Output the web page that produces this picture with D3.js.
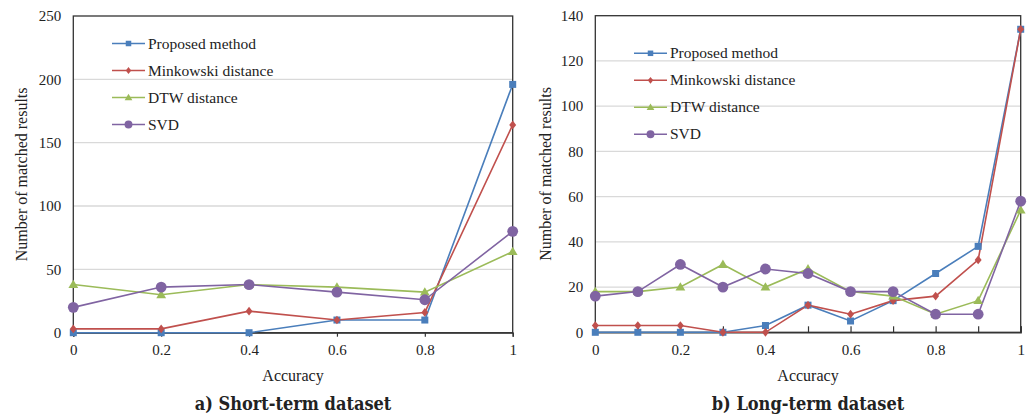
<!DOCTYPE html>
<html><head><meta charset="utf-8">
<script src="https://cdn.jsdelivr.net/npm/d3@7"></script>
<style>
body{margin:0;background:#fff;}
svg text{font-family:"Liberation Serif","Times New Roman",serif;fill:#222;}
.title{font-family:"DejaVu Serif",serif !important;font-weight:bold;font-stretch:condensed;}
</style></head>
<body>
<svg id="c" width="1035" height="416"></svg>
<script>
const seriesNames = ["Proposed method","Minkowski distance","DTW distance","SVD"];
const colors = ["#4a7ebb","#c0504d","#9bbb59","#8064a2"];
const markers = ["square","diamond","triangle","circle"];

// Short-term dataset
const shortX = [0,0.2,0.4,0.6,0.8,1];
const shortProposed = [0,0,0,10,10,196];
const shortMinkowski = [3,3,17,10,16,164];
const shortDTW = [38,30,38,36,32,64];
const shortSVD = [20,36,38,32,26,80];
const shortYTicks = [0,50,100,150,200,250];
const shortXTicks = [0,0.2,0.4,0.6,0.8,1];
const shortXLabels = ["0","0.2","0.4","0.6","0.8","1"];

// Long-term dataset
const longX = [0,0.1,0.2,0.3,0.4,0.5,0.6,0.7,0.8,0.9,1];
const longProposed = [0,0,0,0,3,12,5,14,26,38,134];
const longMinkowski = [3,3,3,0,0,12,8,14,16,32,134];
const longDTW = [18,18,20,30,20,28,18,16,8,14,54];
const longSVD = [16,18,30,20,28,26,18,18,8,8,58];
const longYTicks = [0,20,40,60,80,100,120,140];
const longXTicks = [0,0.1,0.2,0.3,0.4,0.5,0.6,0.7,0.8,0.9,1];
const longXLabels = ["0","0.2","0.4","0.6","0.8","1"];

const svg = d3.select("#c");

function drawMarker(g, type, x, y, color, s){
  if(type==="square"){
    g.append("rect").attr("x",x-s/2).attr("y",y-s/2).attr("width",s).attr("height",s).attr("fill",color);
  } else if(type==="diamond"){
    const r=s*0.62;
    g.append("path").attr("d",`M${x},${y-r}L${x+r*0.8},${y}L${x},${y+r}L${x-r*0.8},${y}Z`).attr("fill",color);
  } else if(type==="triangle"){
    const r=s*0.7;
    g.append("path").attr("d",`M${x},${y-r}L${x+r},${y+r*0.7}L${x-r},${y+r*0.7}Z`).attr("fill",color);
  } else {
    g.append("circle").attr("cx",x).attr("cy",y).attr("r",s*0.72).attr("fill",color);
  }
}

function chart(cfg){
  const {x0,x1,y0,y1,xs,series,yMax,yTicks,xTicks,xLabels,legX,legY,title,yTitleX,tickIn} = cfg;
  const g = svg.append("g");
  const x = d3.scaleLinear().domain([0,1]).range([x0,x1]);
  const y = d3.scaleLinear().domain([0,yMax]).range([y0,y1]);
  // gridlines
  g.selectAll(".grid").data(yTicks.filter(d=>d>0 && d<yMax)).join("line")
    .attr("x1",x0).attr("x2",x1).attr("y1",d=>y(d)).attr("y2",d=>y(d))
    .attr("stroke","#d9d9d9").attr("stroke-width",1.3);
  // frame
  g.append("rect").attr("x",x0).attr("y",y1).attr("width",x1-x0).attr("height",y0-y1)
    .attr("fill","none").attr("stroke","#333").attr("stroke-width",1.3);
  // y axis
  const ya = g.append("g").attr("transform",`translate(${x0},0)`)
    .call(d3.axisLeft(y).tickValues(yTicks).tickSize(0).tickPadding(12));
  ya.select(".domain").remove();
  ya.selectAll("text").style("font-size","15px").attr("fill","#222");
  // x axis ticks
  const xa = g.append("g").attr("transform",`translate(0,${y0})`)
    .call((tickIn ? d3.axisTop(x).tickSize(6) : d3.axisBottom(x).tickSize(4)).tickValues(xTicks).tickFormat(""));
  xa.select(".domain").attr("stroke","#333").attr("stroke-width",1.3);
  xa.selectAll("line").attr("stroke","#333").attr("stroke-width",1.2);
  const xl = g.append("g").attr("transform",`translate(0,${y0})`)
    .call(d3.axisBottom(x).tickValues(xLabels.map(Number)).tickSize(0).tickPadding(12).tickFormat((d,i)=>xLabels[i]));
  xl.select(".domain").remove();
  xl.selectAll("text").style("font-size","15px").attr("fill","#222");
  // axis titles
  g.append("text").attr("x",(x0+x1)/2).attr("y",381).attr("text-anchor","middle").style("font-size","16px").text("Accuracy");
  g.append("text").attr("transform",`translate(${yTitleX},${(y0+y1)/2}) rotate(-90)`).attr("text-anchor","middle")
    .style("font-size","16px").text("Number of matched results");
  // series
  const line = d3.line().x((d,i)=>x(xs[i])).y(d=>y(d));
  series.forEach((s,k)=>{
    g.append("path").datum(s).attr("d",line).attr("fill","none").attr("stroke",colors[k]).attr("stroke-width",1.6);
  });
  series.forEach((s,k)=>{
    const mg = g.append("g");
    s.forEach((v,i)=>drawMarker(mg,markers[k],x(xs[i]),y(v),colors[k],k===3?7.5:7));
  });
  // legend
  seriesNames.forEach((n,k)=>{
    const ly = legY + k*27;
    g.append("line").attr("x1",legX).attr("x2",legX+33).attr("y1",ly).attr("y2",ly).attr("stroke",colors[k]).attr("stroke-width",1.6);
    drawMarker(g,markers[k],legX+16.5,ly,colors[k],5.5);
    g.append("text").attr("x",legX+36).attr("y",ly+5).style("font-size","15.5px").text(n);
  });
  // title
  g.append("text").attr("class","title").attr("x",(x0+x1)/2).attr("y",410).attr("text-anchor","middle")
    .style("font-size","18px").text(title);
}

chart({x0:73.3,x1:512.7,y0:332.7,y1:16,xs:shortX,series:[shortProposed,shortMinkowski,shortDTW,shortSVD],
  yMax:250,yTicks:shortYTicks,xTicks:shortXTicks,xLabels:shortXLabels,legX:112,legY:43.5,title:"a) Short-term dataset",yTitleX:27,tickIn:false});
chart({x0:595.3,x1:1020.7,y0:332.3,y1:15.7,xs:longX,series:[longProposed,longMinkowski,longDTW,longSVD],
  yMax:140,yTicks:longYTicks,xTicks:longXTicks,xLabels:longXLabels,legX:634,legY:53.3,title:"b) Long-term dataset",yTitleX:551,tickIn:true});
</script>
</body></html>
